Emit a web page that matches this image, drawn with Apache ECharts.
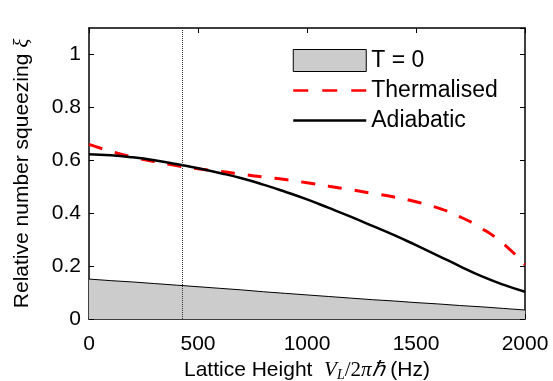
<!DOCTYPE html>
<html>
<head>
<meta charset="utf-8">
<script src="https://cdn.jsdelivr.net/npm/echarts@6/dist/echarts.min.js"></script>
<style>
  html, body { margin: 0; padding: 0; background: #fff; }
  #chart { width: 553px; height: 381px; }
</style>
</head>
<body>
<div id="chart"></div>
<script>
// lattice height samples (Hz)
const latticeHz = [0, 100, 200, 300, 400, 500, 600, 700, 800, 900, 1000,
  1100, 1200, 1300, 1400, 1500, 1600, 1700, 1800, 1900, 2000];

// relative number squeezing
const zeroTemp = [0.151, 0.145, 0.140, 0.134, 0.128, 0.122, 0.116, 0.110, 0.103, 0.097, 0.091,
  0.085, 0.079, 0.073, 0.068, 0.062, 0.057, 0.051, 0.046, 0.040, 0.034];
const thermalised = [0.660, 0.634, 0.612, 0.595, 0.580, 0.568, 0.558, 0.547, 0.537, 0.527, 0.515,
  0.502, 0.489, 0.475, 0.461, 0.443, 0.420, 0.387, 0.343, 0.285, 0.205];
const adiabatic = [0.623, 0.619, 0.611, 0.600, 0.586, 0.570, 0.552, 0.532, 0.508, 0.481, 0.452,
  0.420, 0.387, 0.352, 0.317, 0.279, 0.240, 0.200, 0.162, 0.130, 0.103];

// vertical dotted marker
const markerHz = 430;

const seriesNames = ['T = 0', 'Thermalised', 'Adiabatic'];

const pairs = (ys) => latticeHz.map((x, i) => [x, ys[i]]);

const FONT = 'Liberation Sans, Arial, Helvetica, sans-serif';
const MATH = 'Liberation Serif, Times New Roman, serif';

const chart = echarts.init(document.getElementById('chart'), null, { renderer: 'canvas' });

const axisCommon = {
  axisLine: { show: true, onZero: false, lineStyle: { color: '#000', width: 1.5 } },
  axisTick: { show: true, inside: true, length: 5, lineStyle: { color: '#000', width: 1 } },
  splitLine: { show: false },
};

const option = {
  animation: false,
  backgroundColor: '#fff',
  grid: { left: 89, right: 28, top: 28, bottom: 62, containLabel: false, outerBoundsMode: 'none' },
  legend: {
    orient: 'vertical',
    left: 287,
    top: 44,
    itemWidth: 73,
    itemHeight: 22,
    itemGap: 7,
    textStyle: { fontFamily: FONT, fontSize: 23, color: '#000' },
    lineStyle: { width: 'inherit' },
    data: [
      { name: seriesNames[0], icon: 'rect', itemStyle: { color: '#cccccc', borderColor: '#000', borderWidth: 1 } },
      // hide the marker circle ECharts puts on line-series legend icons
      { name: seriesNames[1], itemStyle: { opacity: 0 }, lineStyle: { width: 2.5, type: [15, 14] } },
      { name: seriesNames[2], itemStyle: { opacity: 0 } },
    ],
  },
  xAxis: [
    {
      type: 'value',
      min: 0,
      max: 2000,
      interval: 500,
      position: 'bottom',
      ...axisCommon,
      axisLabel: { fontFamily: FONT, fontSize: 21, color: '#000', margin: 15, formatter: (v) => String(v) },
      name: 'Lattice Height  {it|V}{sub|L}{n|/2}{it|πℏ}{t| (Hz)}',
      nameLocation: 'middle',
      nameGap: 39,
      nameTextStyle: {
        fontFamily: FONT, fontSize: 21, color: '#000',
        rich: {
          it: { fontFamily: MATH, fontStyle: 'italic', fontSize: 21, color: '#000' },
          n: { fontFamily: MATH, fontSize: 21, color: '#000' },
          sub: { fontFamily: MATH, fontStyle: 'italic', fontSize: 14, color: '#000', verticalAlign: 'bottom', padding: [10, 0, 0, 0] },
          t: { fontFamily: FONT, fontSize: 21, color: '#000' },
        },
      },
    },
    {
      type: 'value',
      min: 0,
      max: 2000,
      interval: 500,
      position: 'top',
      ...axisCommon,
      axisLabel: { show: false },
    },
  ],
  yAxis: [
    {
      type: 'value',
      min: 0,
      max: 1.1,
      interval: 0.2,
      position: 'left',
      ...axisCommon,
      axisLabel: { fontFamily: FONT, fontSize: 21, color: '#000', margin: 8, showMaxLabel: false },
      name: 'Relative number squeezing {it|ξ}',
      nameLocation: 'middle',
      nameGap: 56,
      nameRotate: 90,
      nameTextStyle: {
        fontFamily: FONT, fontSize: 21, color: '#000',
        rich: {
          it: { fontFamily: MATH, fontStyle: 'italic', fontSize: 21, color: '#000' },
        },
      },
    },
    {
      type: 'value',
      min: 0,
      max: 1.1,
      interval: 0.2,
      position: 'right',
      ...axisCommon,
      axisLabel: { show: false },
    },
  ],
  series: [
    {
      name: seriesNames[0],
      type: 'line',
      data: pairs(zeroTemp),
      symbol: 'none',
      lineStyle: { color: '#000', width: 1 },
      itemStyle: { color: '#cccccc' },
      areaStyle: { color: '#cccccc', opacity: 1 },
      z: 1,
      markLine: {
        silent: true,
        symbol: ['none', 'none'],
        label: { show: false },
        lineStyle: { type: 'dotted', color: '#333', width: 1 },
        data: [{ xAxis: markerHz }],
      },
    },
    {
      name: seriesNames[1],
      type: 'line',
      data: pairs(thermalised),
      smooth: true,
      symbol: 'none',
      lineStyle: { color: '#ff0000', width: 3, type: [14, 13] },
      itemStyle: { color: '#ff0000' },
      z: 3,
    },
    {
      name: seriesNames[2],
      type: 'line',
      data: pairs(adiabatic),
      smooth: true,
      symbol: 'none',
      lineStyle: { color: '#000', width: 2.5 },
      itemStyle: { color: '#000' },
      z: 4,
    },
  ],
};

chart.setOption(option);
window.addEventListener('resize', () => chart.resize());
</script>
</body>
</html>
